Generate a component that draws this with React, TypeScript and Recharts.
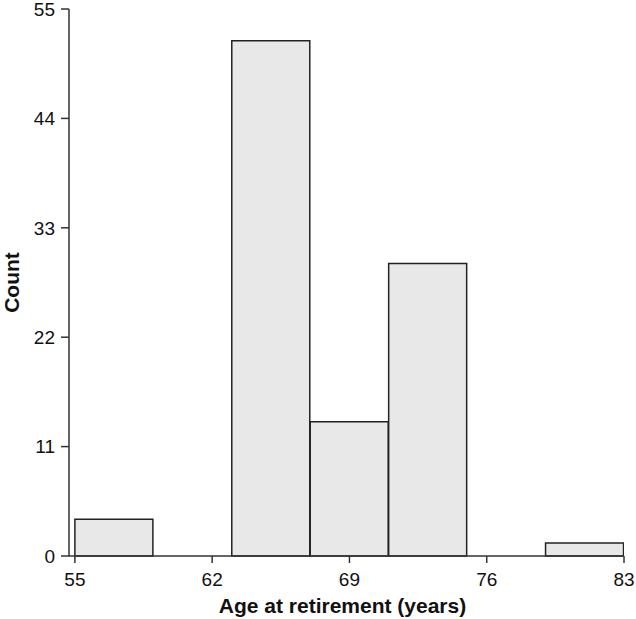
import { BarChart, Bar, XAxis, YAxis, Label } from 'recharts';

// histogram bins of width 4, starting at 55
const binMids = [57, 61, 65, 69, 73, 77, 81];
const counts = [3.7, 0, 51.8, 13.5, 29.4, 0, 1.3];
const xTicks = [55, 62, 69, 76, 83];
const yTicks = [0, 11, 22, 33, 44, 55];

const chartData = binMids.map((mid, i) => ({ mid, count: counts[i] }));

const FONT = '"Liberation Sans", Arial, sans-serif';
const AXIS = '#333';

const XTick = (props: any) => {
    const { x, y, payload } = props;
    return (
        <text x={x} y={y} dy="0.71em" textAnchor="middle" fill="#111" fontSize={19} fontFamily={FONT}>
            {payload.value}
        </text>
    );
};

const YTick = (props: any) => {
    const { x, y, payload } = props;
    return (
        <text x={x} y={y} dy="0.36em" textAnchor="end" fill="#111" fontSize={19} fontFamily={FONT}>
            {payload.value}
        </text>
    );
};

export default function App() {
    return (
        <div style={{ position: 'absolute', left: 0, top: 0, fontFamily: FONT }}>
            <BarChart
                width={636}
                height={619}
                data={chartData}
                margin={{ top: 9, right: 12, bottom: 0, left: 0 }}
                barCategoryGap={0}
                barGap={0}
            >
                <XAxis
                    dataKey="mid"
                    type="number"
                    domain={[54.7, 83]}
                    ticks={xTicks}
                    allowDataOverflow
                    height={63}
                    tickSize={7}
                    tickMargin={10}
                    stroke={AXIS}
                    strokeWidth={1.5}
                    tick={<XTick />}
                >
                    <Label
                        value="Age at retirement (years)"
                        position="insideBottom"
                        offset={6}
                        dx={-4}
                        style={{ fill: '#111', fontSize: 21, fontWeight: 'bold', fontFamily: FONT }}
                    />
                </XAxis>
                <YAxis
                    type="number"
                    domain={[0, 55]}
                    ticks={yTicks}
                    width={69}
                    tickSize={8}
                    tickMargin={6}
                    stroke={AXIS}
                    strokeWidth={1.5}
                    tick={<YTick />}
                >
                    <Label
                        value="Count"
                        angle={-90}
                        position="insideLeft"
                        offset={12}
                        style={{ textAnchor: 'middle', fill: '#111', fontSize: 21, fontWeight: 'bold', fontFamily: FONT }}
                    />
                </YAxis>
                <Bar
                    dataKey="count"
                    fill="#e8e8e8"
                    stroke="#222"
                    strokeWidth={1.5}
                    isAnimationActive={false}
                />
            </BarChart>
        </div>
    );
}
